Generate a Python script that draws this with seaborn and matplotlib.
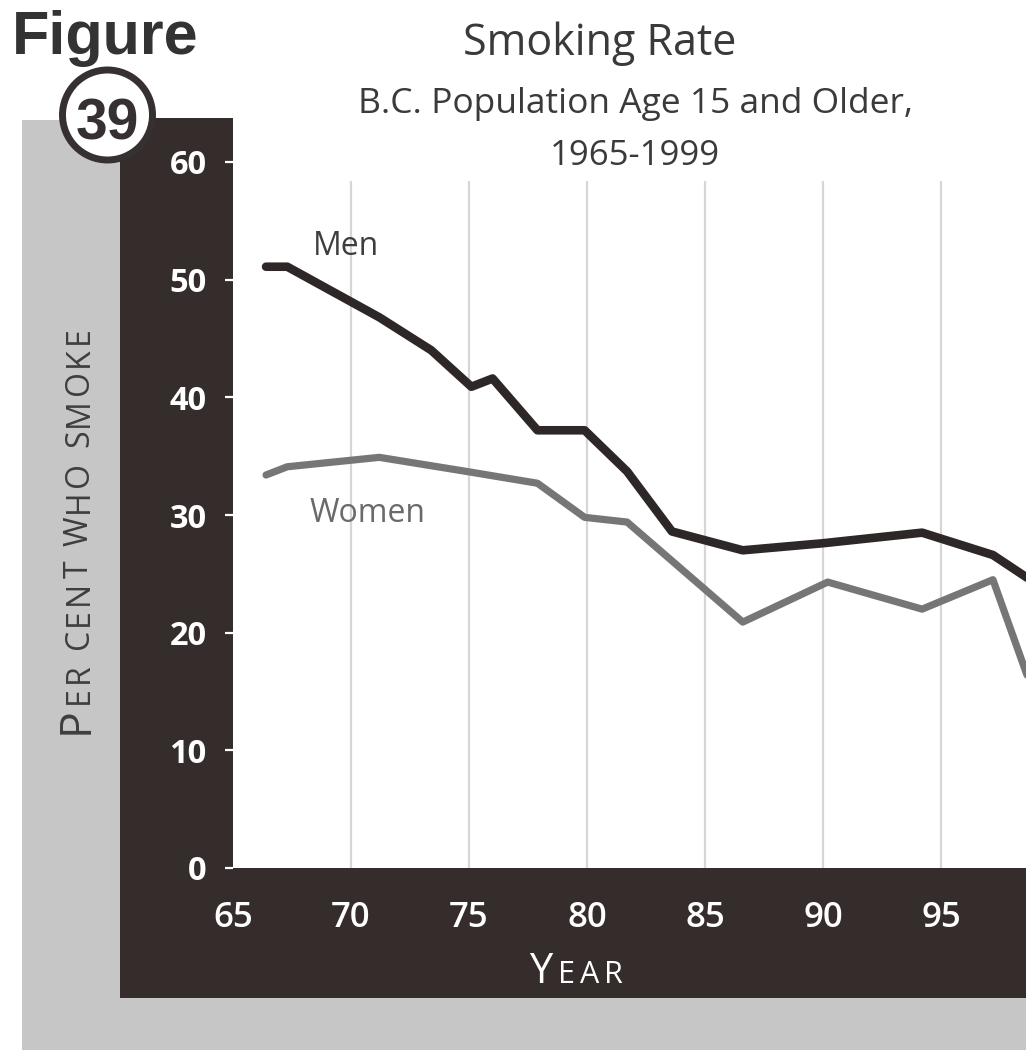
import matplotlib
matplotlib.use("Agg")
import matplotlib.pyplot as plt
from matplotlib.patches import Rectangle, Circle
import numpy as np
import pandas as pd
import seaborn as sns

# ---- data (two-digit years, per cent of population 15+ who smoke) ----
years_men = [66.4, 67.3, 71.2, 73.4, 75.1, 76.0, 77.9, 79.9, 81.7, 83.6, 86.6, 90.0, 94.2, 97.2, 99.0]
pct_men = [51.1, 51.1, 46.8, 44.0, 40.9, 41.6, 37.2, 37.2, 33.7, 28.6, 27.0, 27.6, 28.5, 26.6, 24.2]

years_women = [66.4, 67.3, 71.2, 74.9, 77.9, 79.9, 81.7, 86.6, 90.2, 94.2, 97.2, 99.0]
pct_women = [33.4, 34.1, 34.9, 33.7, 32.7, 29.8, 29.4, 20.9, 24.3, 22.0, 24.5, 14.4]

x_ticks = [65, 70, 75, 80, 85, 90, 95]
y_ticks = [0, 10, 20, 30, 40, 50, 60]

title = "Smoking Rate"
subtitle_1 = "B.C. Population Age 15 and Older,"
subtitle_2 = "1965-1999"
figure_word = "Figure"
figure_number = "39"

# ---- styling ----
sns.set_theme(style="white")
plt.rcParams["font.family"] = ["Open Sans", "DejaVu Sans"]

W, H, DPI = 1026, 1061, 100
FRAME = "#352c2c"
SHADOW = "#c6c6c6"
INK = "#363030"

fig = plt.figure(figsize=(W / DPI, H / DPI), dpi=DPI, facecolor="white")


def fx(x):
    return x / W


def fy(y):
    return 1 - y / H


# shadow and dark frame behind the plotting area
fig.add_artist(Rectangle((fx(22), fy(1050)), fx(1200) - fx(22), fy(120) - fy(1050),
                         transform=fig.transFigure, facecolor=SHADOW, edgecolor="none", zorder=-2))
fig.add_artist(Rectangle((fx(120), fy(998)), fx(1200) - fx(120), fy(118) - fy(998),
                         transform=fig.transFigure, facecolor=FRAME, edgecolor="none", zorder=-1))

# plotting area (runs past the right edge of the page)
left, right, bottom, top = 233, 1059, 868, 118
ax = fig.add_axes([fx(left), fy(bottom), fx(right) - fx(left), fy(top) - fy(bottom)])
ax.set_facecolor("white")
ax.set_xlim(65, 100)
ax.set_ylim(0, (bottom - top) / ((bottom - 162) / 60))

ax.vlines(x_ticks[1:], 0, 58.4, color="#d6d6d6", lw=1.6, zorder=1)

df_men = pd.DataFrame({"year": years_men, "pct": pct_men})
df_women = pd.DataFrame({"year": years_women, "pct": pct_women})
sns.lineplot(data=df_women, x="year", y="pct", ax=ax, color="#767676", lw=5.2,
             estimator=None, solid_joinstyle="round", zorder=3)
sns.lineplot(data=df_men, x="year", y="pct", ax=ax, color="#2e2727", lw=6.2,
             estimator=None, solid_joinstyle="round", zorder=4)

ax.text(68.39, 52.1, "Men", fontsize=23, color="#3e3e3e", ha="left", va="baseline")
ax.text(68.26, 29.4, "Women", fontsize=23, color="#6a6a6a", ha="left", va="baseline")

for s in ax.spines.values():
    s.set_visible(False)
ax.set_xticks(x_ticks)
ax.set_yticks(y_ticks)
ax.set_xticklabels([str(t) for t in x_ticks])
ax.set_yticklabels([str(t) for t in y_ticks])
ax.tick_params(axis="y", left=True, direction="out", length=6, width=1.6, color="white",
               labelcolor="white", labelsize=23.5, pad=13)
ax.tick_params(axis="x", bottom=False, length=0, labelcolor="white", labelsize=25, pad=24)
for lab in ax.get_yticklabels():
    lab.set_fontweight("bold")
for lab in ax.get_xticklabels():
    lab.set_fontweight("semibold")
ax.set_xlabel("")
ax.set_ylabel("")

# ---- titles ----
fig.text(fx(600), fy(55), title, fontsize=31, color="#3a3a3a", ha="center", va="baseline")
fig.text(fx(635), fy(113), subtitle_1, fontsize=25.5, color="#3a3a3a", ha="center", va="baseline")
fig.text(fx(635), fy(165), subtitle_2, fontsize=25, color="#3a3a3a", ha="center", va="baseline")

fig.text(fx(12), fy(54), figure_word, fontsize=44, fontweight="bold", color="#333333",
         family=["Liberation Sans", "DejaVu Sans"], ha="left", va="baseline")

badge = Circle((107.5 / DPI, (H - 115) / DPI), 45 / DPI, transform=fig.dpi_scale_trans,
               facecolor="white", edgecolor=INK, lw=5, zorder=5)
fig.add_artist(badge)
fig.text(fx(107), fy(140), figure_number, fontsize=41, fontweight="bold", color=INK,
         family=["Liberation Sans", "DejaVu Sans"], ha="center", va="baseline", zorder=6)


# ---- small-caps axis titles ----
def small_caps(pieces, cx, cy, rotation, color, track):
    renderer = fig.canvas.get_renderer()
    widths = []
    for ch, size in pieces:
        if ch == " ":
            widths.append(0.26 * size * DPI / 72)
        else:
            t = fig.text(0, 0, ch, fontsize=size)
            widths.append(t.get_window_extent(renderer).width)
            t.remove()
    total = sum(widths) + track * (len(pieces) - 1)
    pos = -total / 2
    for (ch, size), w in zip(pieces, widths):
        if ch != " ":
            if rotation == 90:
                px, py = cx, cy - pos
            else:
                px, py = cx + pos, cy
            fig.text(fx(px), fy(py), ch, fontsize=size, color=color, rotation=rotation,
                     rotation_mode="anchor", ha="left", va="baseline", zorder=3)
        pos += w + track


def caps_pieces(word, big, small):
    return [(word[0], big)] + [(c, small) for c in word[1:]]


small_caps(caps_pieces("PER CENT WHO SMOKE", 32, 23), 88, 530, 90, "#3e3e3e", 3.0)
small_caps(caps_pieces("YEAR", 30, 22), 576, 983, 0, "white", 5.0)

fig.savefig("out.png", dpi=DPI, facecolor="white")
